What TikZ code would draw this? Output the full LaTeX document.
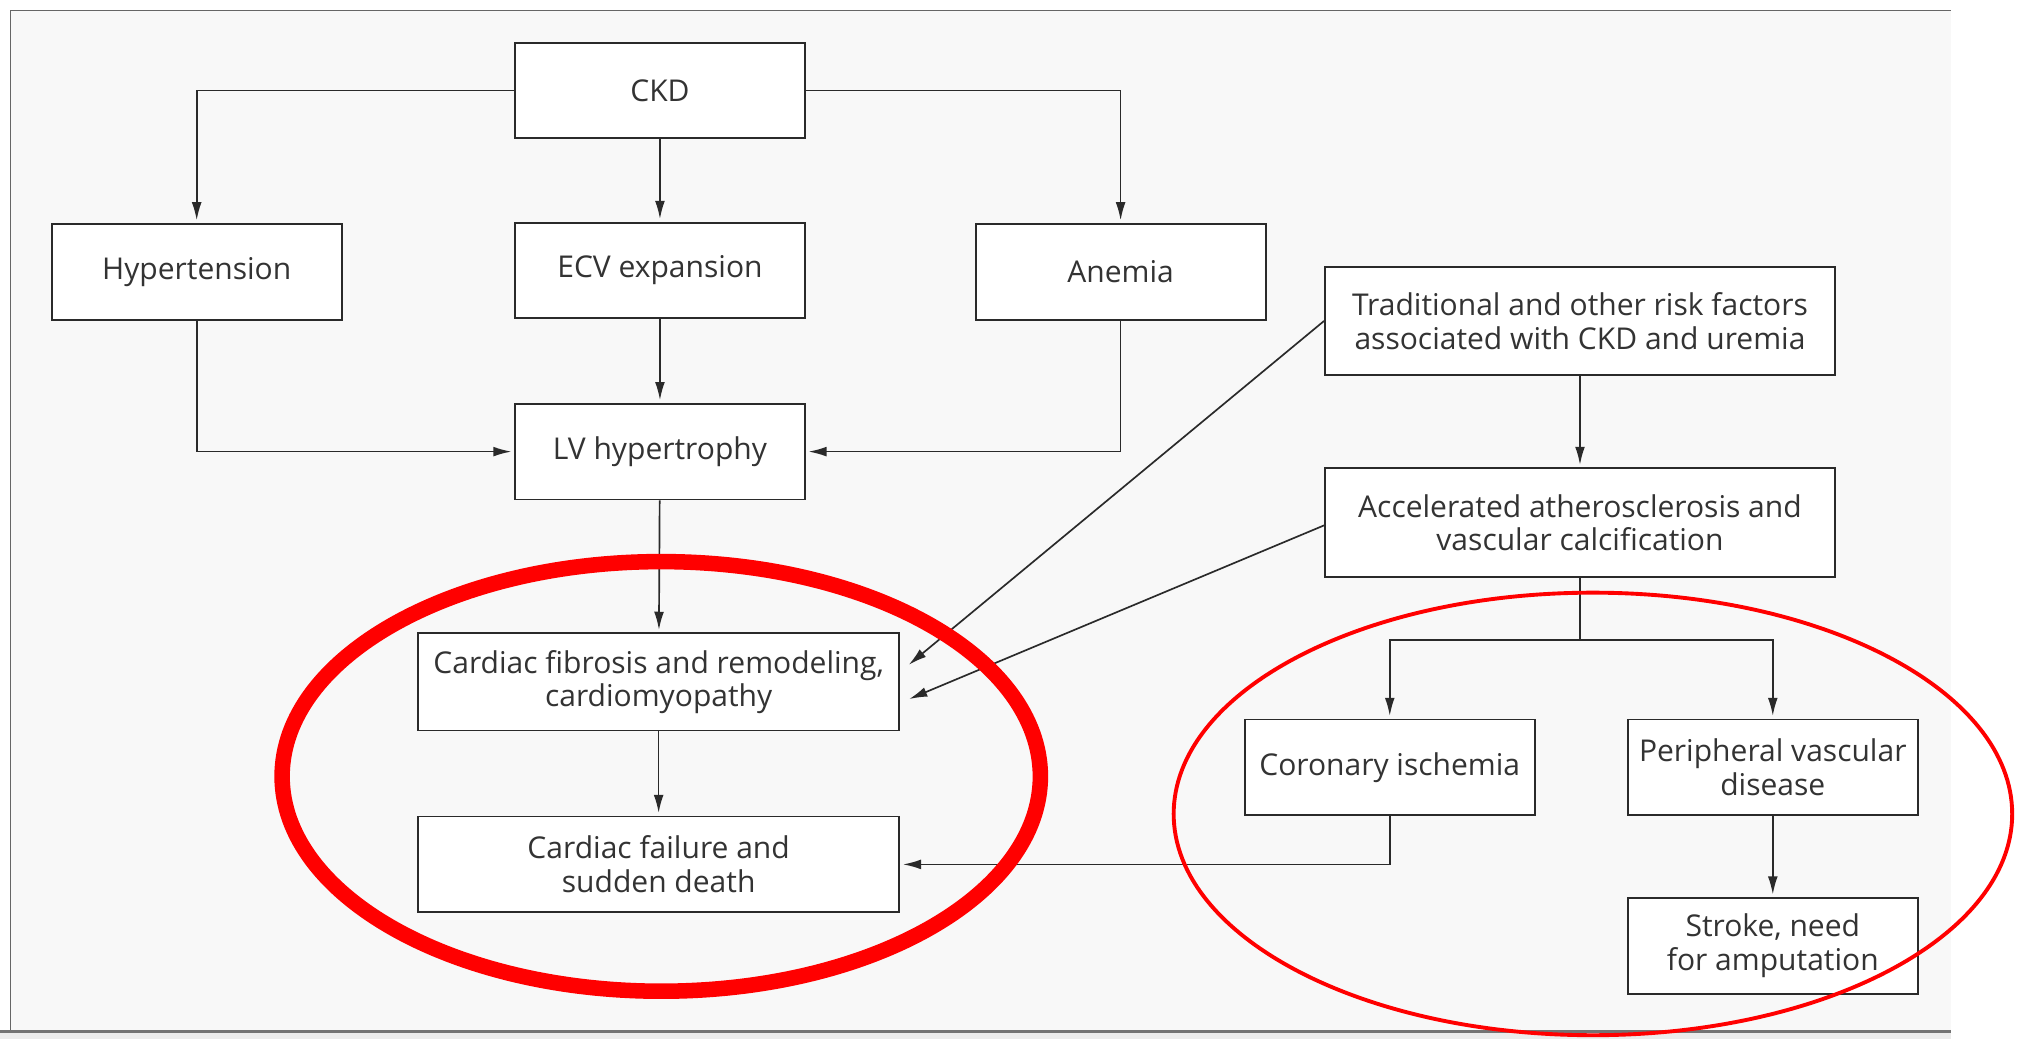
\documentclass[tikz,border=0pt]{standalone}
\usepackage{fontspec}
\setmainfont{Open Sans}
\usetikzlibrary{arrows.meta}
\definecolor{bgc}{HTML}{F8F8F8}
\definecolor{inkc}{HTML}{2A2A2A}
\definecolor{txtc}{HTML}{333333}
\definecolor{redc}{HTML}{FF0000}
\begin{document}
\begin{tikzpicture}[x=0.5pt,y=-0.5pt,
  box/.style={draw=inkc, fill=white, line width=0.75pt, minimum width=112pt, minimum height=37pt,
    inner sep=0pt, align=center, font=\fontsize{11.6}{13}\selectfont, text=txtc},
  arr/.style={draw=inkc, line width=0.65pt, -{Latex[length=7pt,width=3.8pt]}, shorten >=1pt},
  ln/.style={draw=inkc, line width=0.65pt}]
\useasboundingbox (0,0) rectangle (1568,803);
\fill[white] (0,0) rectangle (1568,803);
\fill[bgc] (8,8) rectangle (1508,797);
\fill[black!8] (0,798) rectangle (1508,803);
\draw[black!60, line width=0.6pt] (8,797) -- (8,8) -- (1508,8);
\draw[black!55, line width=1.2pt] (0,797) -- (1508,797);

\node[box] (ckd) at (510,70) {CKD};
\node[box] (hyp) at (152,210) {Hypertension};
\node[box] (ecv) at (510,209) {ECV expansion};
\node[box] (ane) at (866,210) {Anemia};
\node[box] (lv) at (510,349) {LV hypertrophy};
\node[box, minimum width=197pt, minimum height=42pt] (trad) at (1221,248) {Traditional and other risk factors\\associated with CKD and uremia};
\node[box, minimum width=197pt, minimum height=42pt] (acc) at (1221,404) {Accelerated atherosclerosis and\\vascular calcification};
\node[box, minimum width=186pt, minimum height=37.5pt] (fib) at (509,527) {Cardiac fibrosis and remodeling,\\cardiomyopathy};
\node[box, minimum width=186pt, minimum height=37pt] (fail) at (509,668) {Cardiac failure and\\sudden death};
\node[box] (cor) at (1074,593) {Coronary ischemia};
\node[box] (per) at (1370,593) {Peripheral vascular\\disease};
\node[box] (str) at (1370,731) {Stroke, need\\for amputation};

\draw[arr] (ckd.west) -| (hyp.north);
\draw[arr] (ckd.east) -| (ane.north);
\draw[arr] (ckd) -- (ecv);
\draw[arr] (ecv) -- (lv);
\draw[arr] (hyp.south) |- (lv.west);
\draw[arr] (ane.south) |- (lv.east);
\draw[arr] (lv) -- (fib);
\draw[arr] (fib) -- (fail);
\draw[arr] (trad) -- (acc);
\draw[arr] (trad.west) -- ([shift={(5,-12)}]fib.east);
\draw[arr] ([yshift=-1pt]acc.west) -- ([shift={(5,14)}]fib.east);
\path (acc.south) ++(0,48) coordinate (br);
\draw[ln] (acc.south) -- (br);
\draw[arr] (br) -| (cor.north);
\draw[arr] (br) -| (per.north);
\draw[arr] (cor.south) |- (fail.east);
\draw[arr] (per) -- (str);

\draw[redc, line width=6pt] (511,600) ellipse [x radius=293, y radius=166];
\draw[redc, line width=1.5pt] (1231,629) ellipse [x radius=324, y radius=171];
\end{tikzpicture}
\end{document}
